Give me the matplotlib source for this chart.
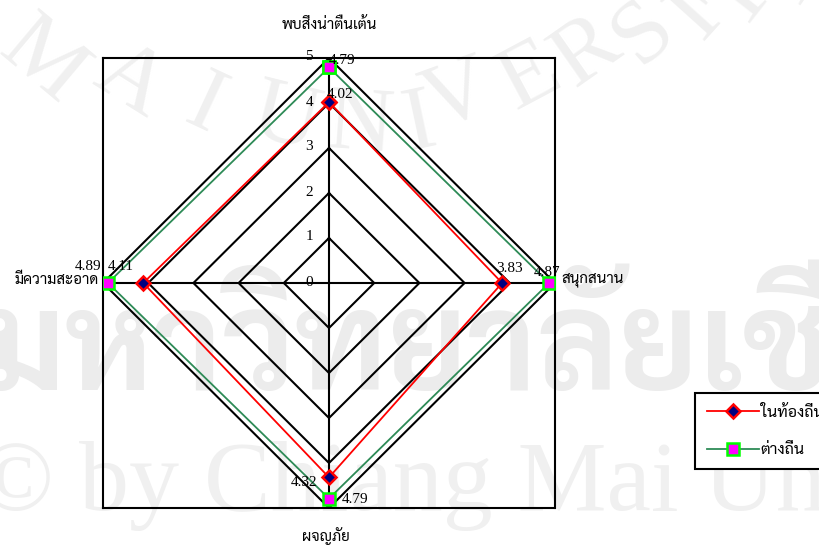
import numpy as np
import matplotlib
matplotlib.use("Agg")
import matplotlib.pyplot as plt

# data
categories = ["พบสิ่งน่าตื่นเต้น", "สนุกสนาน", "ผจญภัย", "มีความสะอาด"]
series_names = ["ในท้องถิ่น", "ต่างถิ่น"]
local_vals = [4.02, 3.83, 4.32, 4.11]
visitor_vals = [4.79, 4.87, 4.79, 4.89]
levels = [0, 1, 2, 3, 4, 5]

thai = ["Sarabun", "DejaVu Sans"]
num_font = ["Liberation Serif", "DejaVu Serif"]

fig = plt.figure(figsize=(8.19, 5.46), dpi=100)

# faint university watermark behind the chart
fig.text(-20 / 819, 1 - 390 / 546, "มหาวิทยาลัยเชียงใหม่", fontsize=98, color="#ececec",
         family=thai, fontweight="bold", va="baseline", ha="left", zorder=-5)
fig.text(-22 / 819, 1 - 510 / 546, "© by Chiang Mai University", fontsize=72, color="#f0f0f0",
         family=num_font, va="baseline", ha="left", zorder=-5)
arc_letters = [("M", 42, 62, -40), ("A", 130, 82, -32), ("I", 205, 107, -25),
               ("U", 285, 120, -14), ("N", 360, 127, -4), ("I", 420, 125, 12),
               ("V", 458, 98, 20), ("E", 530, 78, 28), ("R", 587, 53, 35),
               ("S", 645, 33, 42), ("I", 695, 15, 48), ("T", 740, -2, 52),
               ("Y", 790, -20, 56)]
for ch, px, py, rot in arc_letters:
    fig.text(px / 819, 1 - py / 546, ch, fontsize=66, color="#f0f0f0", family=num_font,
             rotation=rot, ha="center", va="center", zorder=-5)

ax = fig.add_axes([103 / 819, 38 / 546, 452 / 819, 450 / 546])
ax.patch.set_visible(False)
ax.set_xlim(-5, 5)
ax.set_ylim(-5, 5)
ax.set_xticks([])
ax.set_yticks([])
for sp in ax.spines.values():
    sp.set_linewidth(1.5)
    sp.set_color("black")

# clockwise from the top
ang = np.deg2rad(90 - 90 * np.arange(len(categories)))
ux, uy = np.cos(ang), np.sin(ang)

def ring(vals):
    v = np.asarray(vals, dtype=float)
    x = np.append(v * ux, v[0] * ux[0])
    y = np.append(v * uy, v[0] * uy[0])
    return x, y

# grid diamonds and spokes
for lv in levels[1:]:
    gx, gy = ring([lv] * len(categories))
    ax.plot(gx, gy, color="black", lw=1.5, zorder=1)
for i in range(len(categories)):
    ax.plot([0, levels[-1] * ux[i]], [0, levels[-1] * uy[i]], color="black", lw=1.5, zorder=1)
for lv in levels:
    ax.annotate(str(lv), (0, lv), xytext=(-16, 1), textcoords="offset pixels",
                ha="right", va="center", fontsize=11, family=num_font)

lx, ly = ring(local_vals)
l1, = ax.plot(lx, ly, color="red", lw=1.3, marker="D", markersize=7,
              markerfacecolor="#000080", markeredgecolor="red", markeredgewidth=1.8,
              zorder=3, label=series_names[0])
vx, vy = ring(visitor_vals)
l2, = ax.plot(vx, vy, color="#2e8b57", lw=1.3, marker="s", markersize=8,
              markerfacecolor="#ff00ff", markeredgecolor="#00ff00", markeredgewidth=1.8,
              zorder=3, label=series_names[1])

# value labels (offsets in pixels, order: top, right, bottom, left)
local_off = [(-2, 8, "left"), (-6, 15, "left"), (-12, -5, "right"), (-9, 16, "right")]
visit_off = [(0, 7, "left"), (-15, 10, "left"), (13, -1, "left"), (-7, 17, "right")]
for vals, offs in [(local_vals, local_off), (visitor_vals, visit_off)]:
    for i, v in enumerate(vals):
        dx, dy, ha = offs[i]
        ax.annotate(f"{v:.2f}", (v * ux[i], v * uy[i]), xytext=(dx, dy),
                    textcoords="offset pixels", ha=ha, va="center",
                    fontsize=11, family=num_font, zorder=4)

# category labels
cat_off = [(0, 33, "center"), (6, 3, "left"), (-3, -28, "center"), (-4, 3, "right")]
for i, name in enumerate(categories):
    dx, dy, ha = cat_off[i]
    ax.annotate(name, (levels[-1] * ux[i], levels[-1] * uy[i]), xytext=(dx, dy),
                textcoords="offset pixels", ha=ha, va="center",
                fontsize=10.8, family=thai, annotation_clip=False)

leg = fig.legend(handles=[l1, l2], loc="upper left",
                 bbox_to_anchor=(695 / 819, 1 - 393 / 546), prop={"family": thai, "size": 11.5},
                 fancybox=False, framealpha=1, edgecolor="black", borderpad=0.75,
                 labelspacing=1.45, handlelength=3.25, handletextpad=0.12, borderaxespad=0)
leg.get_frame().set_linewidth(1.5)

fig.savefig("out.png", dpi=100)
